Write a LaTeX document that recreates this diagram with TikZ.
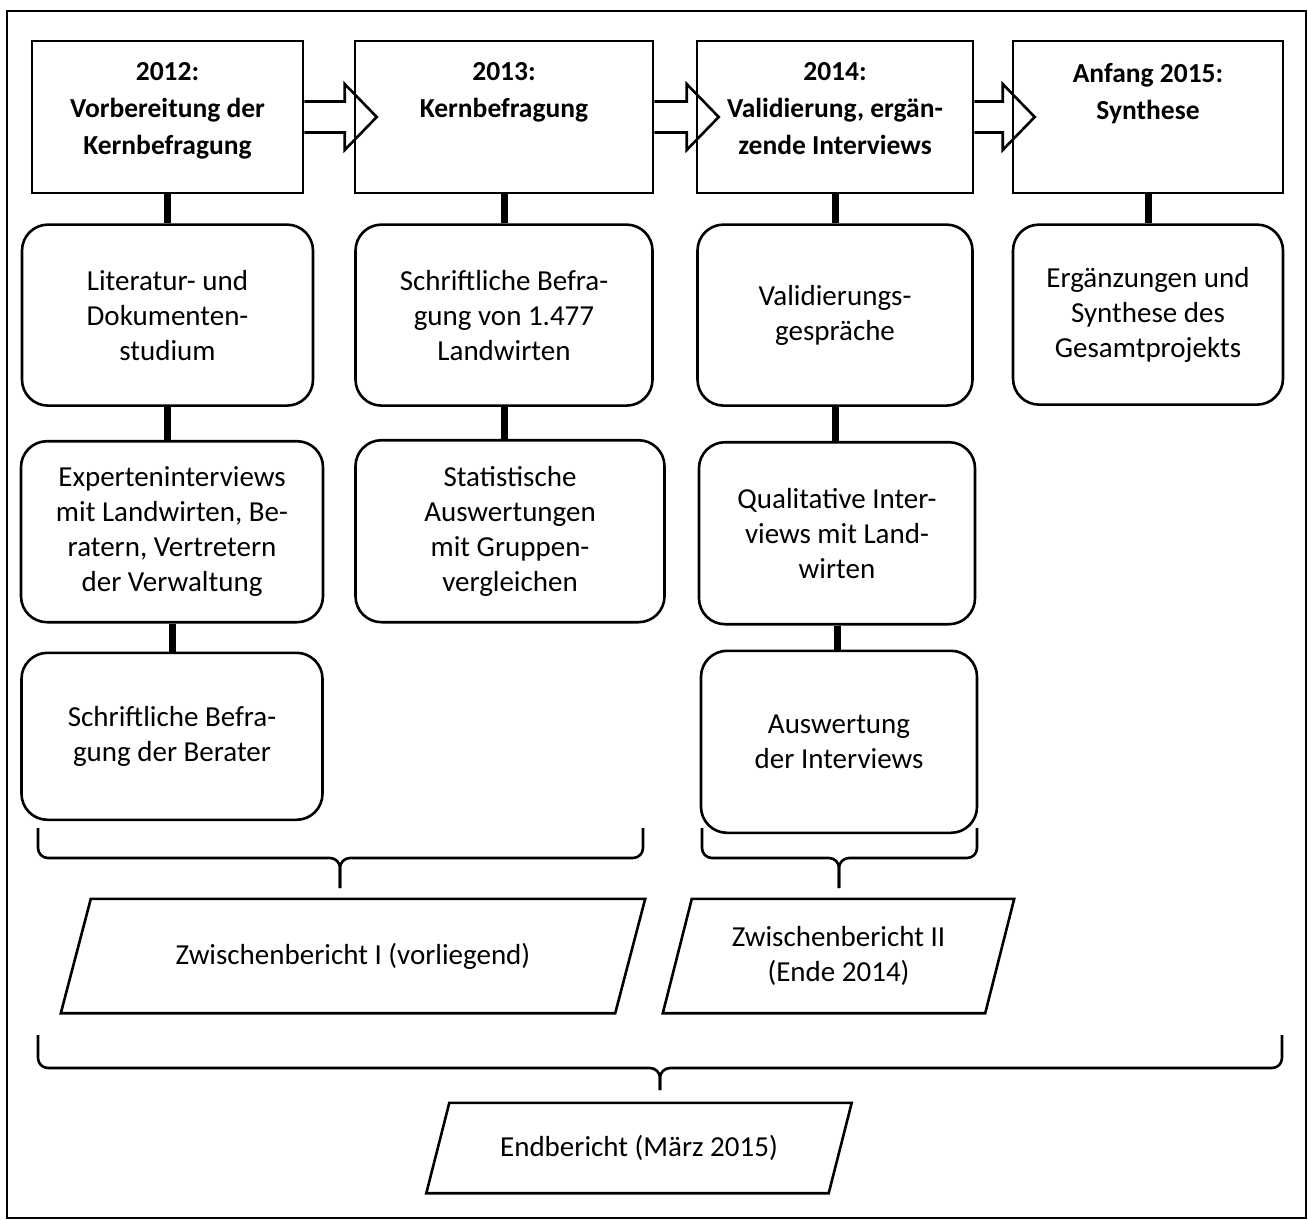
\documentclass[tikz,border=0pt]{standalone}
\usepackage{fontspec}
\setmainfont{Carlito}
\usetikzlibrary{positioning}

\begin{document}
\begin{tikzpicture}[x=1pt, y=1pt,
  font=\fontsize{29}{35}\selectfont,
  headbox/.style={draw, line width=2.6pt, minimum height=152pt, inner sep=0pt},
  headtext/.style={font=\fontsize{27.5}{37}\selectfont\bfseries, align=center,
                   inner sep=0pt, anchor=north},
  stepbox/.style={draw, line width=2.6pt, rounded corners=26pt, align=center,
                  inner sep=0pt},
  reptext/.style={align=center, inner sep=0pt},
  report/.style={draw, line width=2.6pt, line join=miter},
  link/.style={line width=7pt},
  blockarrow/.style={draw, line width=2.6pt, line join=miter},
  brace/.style={line width=2.6pt, rounded corners=10pt},
]
\useasboundingbox (0,0) rectangle (1308,-1219);
\draw[line width=2pt] (7,-11) rectangle (1306,-1218);

% --- phases ---
\node[headbox, minimum width=271pt] (h1) at (167.5,-117) {};
\node[headbox, minimum width=298pt] (h2) at (504,-117) {};
\node[headbox, minimum width=276pt] (h3) at (835,-117) {};
\node[headbox, minimum width=270pt] (h4) at (1148,-117) {};
\node[headtext] (h1t) at ([yshift=-23pt]h1.north) {2012:\\Vorbereitung der\\Kernbefragung};
\node[headtext] (h2t) at ([yshift=-23pt]h2.north) {2013:\\Kernbefragung};
\node[headtext] (h3t) at ([yshift=-23pt]h3.north) {2014:\\Validierung, ergän-\\zende Interviews};
\node[headtext] (h4t) at ([yshift=-23pt]h4.north) {Anfang 2015:\\Synthese};

\foreach \a/\b in {h1/h2, h2/h3, h3/h4}
  \draw[blockarrow] ([yshift=15.5pt]\a.east) -- ([xshift=-9pt,yshift=15.5pt]\b.west)
    -- ([xshift=-9pt,yshift=33pt]\b.west) -- ([xshift=23pt]\b.west)
    -- ([xshift=-9pt,yshift=-33pt]\b.west) -- ([xshift=-9pt,yshift=-15.5pt]\b.west)
    -- ([yshift=-15.5pt]\a.east);

% --- steps ---
\node[stepbox, minimum width=291pt, minimum height=181pt, below=29pt of h1] (lit)
  {Literatur- und\\Dokumenten-\\studium};
\node[stepbox, minimum width=302pt, minimum height=181pt, below=33pt of lit, xshift=4.5pt] (exp)
  {Experteninterviews\\mit Landwirten, Be-\\ratern, Vertretern\\der Verwaltung};
\node[stepbox, minimum width=301pt, minimum height=167pt, below=28pt of exp] (ber)
  {Schriftliche Befra-\\gung der Berater};

\node[stepbox, minimum width=297pt, minimum height=181pt, below=29pt of h2] (bef)
  {Schriftliche Befra-\\gung von 1.477\\Landwirten};
\node[stepbox, minimum width=309pt, minimum height=182pt, below=32pt of bef, xshift=6pt] (stat)
  {Statistische\\Auswertungen\\mit Gruppen-\\vergleichen};

\node[stepbox, minimum width=275pt, minimum height=181pt, below=29pt of h3] (val)
  {Validierungs-\\gespräche};
\node[stepbox, minimum width=276pt, minimum height=182pt, below=34pt of val, xshift=2pt] (qual)
  {Qualitative Inter-\\views mit Land-\\wirten};
\node[stepbox, minimum width=276pt, minimum height=182pt, below=24pt of qual, xshift=2pt] (ausw)
  {Auswertung\\der Interviews};

\node[stepbox, minimum width=270pt, minimum height=180pt, below=29pt of h4] (syn)
  {Ergänzungen und\\Synthese des\\Gesamtprojekts};

\draw[link] (h1.south) -- (h1.south |- lit.north);
\draw[link] (lit.south) -- (lit.south |- exp.north);
\draw[link] (exp.south) -- (exp.south |- ber.north);
\draw[link] (h2.south) -- (h2.south |- bef.north);
\draw[link] (bef.south) -- (bef.south |- stat.north);
\draw[link] (h3.south) -- (h3.south |- val.north);
\draw[link] (val.south) -- (val.south |- qual.north);
\draw[link] (qual.south) -- (qual.south |- ausw.north);
\draw[link] (h4.south) -- (h4.south |- syn.north);

% --- reports ---
\node[reptext, minimum width=554pt, minimum height=114pt] (zb1) at (353,-956)
  {Zwischenbericht I (vorliegend)};
\node[reptext, minimum width=322pt, minimum height=114pt] (zb2) at (838.5,-956)
  {Zwischenbericht II\\(Ende 2014)};
\node[reptext, minimum width=402pt, minimum height=90pt] (end) at (639,-1148)
  {Endbericht (März 2015)};
\draw[report] ([xshift=15pt]zb1.north west) -- ([xshift=15pt]zb1.north east)
  -- ([xshift=-15pt]zb1.south east) -- ([xshift=-15pt]zb1.south west) -- cycle;
\draw[report] ([xshift=14.5pt]zb2.north west) -- ([xshift=14.5pt]zb2.north east)
  -- ([xshift=-14.5pt]zb2.south east) -- ([xshift=-14.5pt]zb2.south west) -- cycle;
\draw[report] ([xshift=11.5pt]end.north west) -- ([xshift=11.5pt]end.north east)
  -- ([xshift=-11.5pt]end.south east) -- ([xshift=-11.5pt]end.south west) -- cycle;

% --- braces ---
\draw[brace] (38,-828) -- (38,-858) -- (340,-858) -- (340,-888);
\draw[brace] (643,-828) -- (643,-858) -- (340,-858) -- (340,-888);
\draw[brace] (702,-828) -- (702,-858) -- (839,-858) -- (839,-888);
\draw[brace] (977,-828) -- (977,-858) -- (839,-858) -- (839,-888);
\draw[brace] (38,-1035) -- (38,-1068) -- (660,-1068) -- (660,-1090);
\draw[brace] (1282,-1035) -- (1282,-1068) -- (660,-1068) -- (660,-1090);
\end{tikzpicture}
\end{document}
